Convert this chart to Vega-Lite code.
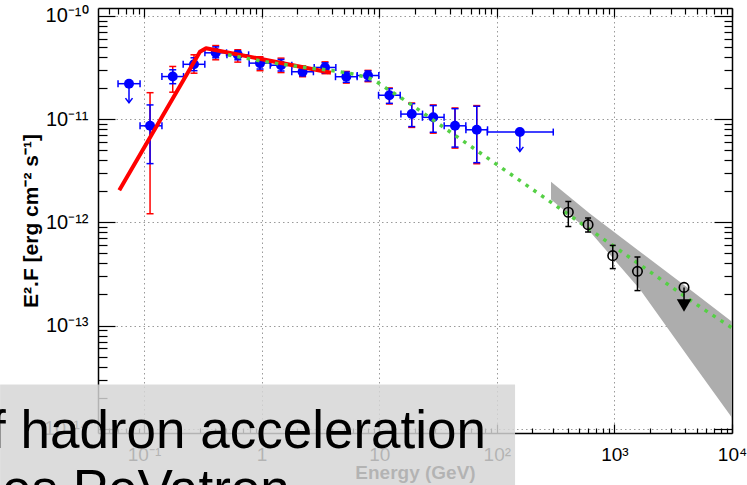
{
  "$schema": "https://vega.github.io/schema/vega-lite/v6.json",
  "width": 634,
  "height": 425,
  "autosize": "none",
  "padding": {"left": 98, "top": 8, "right": 15, "bottom": 52},
  "background": "white",
  "config": {"view": {"stroke": null}, "font": "Liberation Sans"},
  "datasets": {
    "fermi": [
      {"E": 0.0745, "F": 2.2e-11, "xlo": 0.0601, "xhi": 0.0925, "ulend": 1.44e-11},
      {"E": 0.1125, "F": 8.6e-12, "xlo": 0.0925, "xhi": 0.142, "stlo": 3.7e-12, "sthi": 1.37e-11, "sylo": 1.21e-12, "syhi": 1.8e-11},
      {"E": 0.1754, "F": 2.58e-11, "xlo": 0.1419, "xhi": 0.2168, "stlo": 2.2e-11, "sthi": 3.0e-11, "sylo": 1.82e-11, "syhi": 3.23e-11},
      {"E": 0.266, "F": 3.39e-11, "xlo": 0.2152, "xhi": 0.3288, "stlo": 2.94e-11, "sthi": 3.92e-11, "sylo": 2.78e-11, "syhi": 4.19e-11},
      {"E": 0.407, "F": 4.38e-11, "xlo": 0.3293, "xhi": 0.503, "stlo": 3.92e-11, "sthi": 5.0e-11, "sylo": 3.75e-11, "syhi": 5.15e-11},
      {"E": 0.627, "F": 4.19e-11, "xlo": 0.507, "xhi": 0.775, "stlo": 3.75e-11, "sthi": 4.58e-11, "sylo": 3.56e-11, "syhi": 4.69e-11},
      {"E": 0.969, "F": 3.48e-11, "xlo": 0.784, "xhi": 1.198, "stlo": 3.05e-11, "sthi": 3.9e-11, "sylo": 2.94e-11, "syhi": 4.01e-11},
      {"E": 1.462, "F": 3.32e-11, "xlo": 1.183, "xhi": 1.807, "stlo": 2.92e-11, "sthi": 3.78e-11, "sylo": 2.82e-11, "syhi": 3.89e-11},
      {"E": 2.23, "F": 2.87e-11, "xlo": 1.804, "xhi": 2.756, "stlo": 2.62e-11, "sthi": 3.18e-11, "sylo": 2.57e-11, "syhi": 3.27e-11},
      {"E": 3.46, "F": 3.16e-11, "xlo": 2.8, "xhi": 4.277, "stlo": 2.8e-11, "sthi": 3.5e-11, "sylo": 2.75e-11, "syhi": 3.58e-11},
      {"E": 5.25, "F": 2.57e-11, "xlo": 4.248, "xhi": 6.489, "stlo": 2.27e-11, "sthi": 2.85e-11, "sylo": 2.23e-11, "syhi": 2.89e-11},
      {"E": 8.03, "F": 2.64e-11, "xlo": 6.497, "xhi": 9.925, "stlo": 2.34e-11, "sthi": 2.92e-11, "sylo": 2.3e-11, "syhi": 2.96e-11},
      {"E": 12.2, "F": 1.7e-11, "xlo": 9.87, "xhi": 15.08, "stlo": 1.42e-11, "sthi": 1.97e-11, "sylo": 1.4e-11, "syhi": 2.0e-11},
      {"E": 18.9, "F": 1.117e-11, "xlo": 15.29, "xhi": 23.36, "stlo": 8.45e-12, "sthi": 1.41e-11, "sylo": 8.3e-12, "syhi": 1.43e-11},
      {"E": 28.8, "F": 1.04e-11, "xlo": 23.3, "xhi": 35.6, "stlo": 7.45e-12, "sthi": 1.35e-11, "sylo": 7.3e-12, "syhi": 1.37e-11},
      {"E": 44.1, "F": 8.6e-12, "xlo": 35.68, "xhi": 54.5, "stlo": 5.35e-12, "sthi": 1.26e-11, "sylo": 5.23e-12, "syhi": 1.28e-11},
      {"E": 67.5, "F": 7.87e-12, "xlo": 54.6, "xhi": 83.4, "stlo": 3.78e-12, "sthi": 1.33e-11, "sylo": 3.69e-12, "syhi": 1.35e-11},
      {"E": 157, "F": 7.48e-12, "xlo": 83, "xhi": 302, "ulend": 4.85e-12}
    ],
    "hess": [
      {"E": 405.6, "F": 1.25e-12, "lo": 9.1e-13, "hi": 1.59e-12},
      {"E": 597, "F": 9.49e-13, "lo": 8.05e-13, "hi": 1.1e-12},
      {"E": 968, "F": 4.75e-13, "lo": 3.56e-13, "hi": 5.97e-13},
      {"E": 1571, "F": 3.35e-13, "lo": 2.18e-13, "hi": 4.61e-13}
    ],
    "hessul": [
      {"E": 3909, "F": 2.34e-13, "ruleend": 1.72e-13, "tri": 1.56e-13}
    ],
    "band": [
      {"E": 289, "lo": 1.66e-12, "hi": 2.47e-12},
      {"E": 621, "lo": 8.11e-13, "hi": 1.21e-12},
      {"E": 1652, "lo": 2.23e-13, "hi": 5.19e-13},
      {"E": 4395, "lo": 4.68e-14, "hi": 2.23e-13},
      {"E": 10000, "lo": 1.28e-14, "hi": 1.09e-13}
    ],
    "redline": [
      {"E": 0.0616, "F": 2.04e-12},
      {"E": 0.299, "F": 4.48e-11},
      {"E": 0.3366, "F": 4.85e-11},
      {"E": 3.89, "F": 2.81e-11}
    ],
    "greenline": [
      {"E": 0.518, "F": 4.19e-11},
      {"E": 0.969, "F": 3.67e-11},
      {"E": 2.121, "F": 3.21e-11},
      {"E": 4.64, "F": 2.87e-11},
      {"E": 6.87, "F": 2.63e-11},
      {"E": 8.86, "F": 2.4e-11},
      {"E": 11.65, "F": 1.965e-11},
      {"E": 17.24, "F": 1.47e-11},
      {"E": 31.0, "F": 9.21e-12},
      {"E": 59.2, "F": 5.51e-12},
      {"E": 106.5, "F": 3.45e-12},
      {"E": 247.1, "F": 1.77e-12},
      {"E": 754.6, "F": 7.26e-13},
      {"E": 2008, "F": 3.32e-13},
      {"E": 5345, "F": 1.52e-13},
      {"E": 10000, "F": 9.5e-14}
    ],
    "overlay": [
      {"x1": 0.00597, "x2": 142.9, "y1": 2.68e-14, "y2": 1e-15}
    ],
    "caption": [
      {"line": "f hadron acceleration", "xr": 80.9, "y": 6.58e-15}
    ],
    "caption2": [
      {"line": "es PeVatron", "xl": 0.0062, "y": 1.73e-15}
    ]
  },
  "layer": [
    {
      "layer": [
        {
          "data": {"name": "band"},
          "mark": {"type": "area", "fill": "#adadad", "opacity": 1},
          "encoding": {
            "x": {"field": "E", "type": "quantitative", "scale": {"type": "log", "domain": [0.0406, 10000], "nice": false},
              "axis": {
                "orient": "bottom",
                "values": [0.05,0.06,0.07,0.08,0.09,0.1,0.2,0.3,0.4,0.5,0.6,0.7,0.8,0.9,1,2,3,4,5,6,7,8,9,10,20,30,40,50,60,70,80,90,100,200,300,400,500,600,700,800,900,1000,2000,3000,4000,5000,6000,7000,8000,9000,10000],
                "labelExpr": "datum.value == 0.1 ? '10⁻¹' : datum.value == 1 ? '1' : datum.value == 10 ? '10' : datum.value == 100 ? '10²' : datum.value == 1000 ? '10³' : datum.value == 10000 ? '10⁴' : ''",
                "labelFlush": false,
                "labelOverlap": false,
                "labelFontSize": 19,
                "labelColor": "black",
                "labelPadding": 21,
                "tickColor": "black",
                "tickWidth": 1.2,
                "tickSize": {"condition": {"test": "abs(log(datum.value)/LN10 - round(log(datum.value)/LN10)) < 0.001", "value": -9}, "value": -5},
                "domainColor": "black",
                "domainWidth": 1.5,
                "grid": true,
                "gridColor": "#9a9a9a",
                "gridDash": [1.5, 3],
                "gridWidth": 1,
                "gridOpacity": {"condition": {"test": "abs(log(datum.value)/LN10 - round(log(datum.value)/LN10)) < 0.001", "value": 1}, "value": 0},
                "title": "Energy (GeV)",
                "titleFontSize": 19,
                "titleFontWeight": "bold",
                "titleColor": "black",
                "titlePadding": -5
              }
            },
            "y": {"field": "hi", "type": "quantitative", "scale": {"type": "log", "domain": [9.1e-15, 1.19e-10], "nice": false},
              "axis": {
                "orient": "left",
                "values": [1e-14,2e-14,3e-14,4e-14,5e-14,6e-14,7e-14,8e-14,9e-14,1e-13,2e-13,3e-13,4e-13,5e-13,6e-13,7e-13,8e-13,9e-13,1e-12,2e-12,3e-12,4e-12,5e-12,6e-12,7e-12,8e-12,9e-12,1e-11,2e-11,3e-11,4e-11,5e-11,6e-11,7e-11,8e-11,9e-11,1e-10],
                "labelExpr": "datum.value == 1e-10 ? '10⁻¹⁰' : datum.value == 1e-11 ? '10⁻¹¹' : datum.value == 1e-12 ? '10⁻¹²' : datum.value == 1e-13 ? '10⁻¹³' : datum.value == 1e-14 ? '10⁻¹⁴' : ''",
                "labelFlush": false,
                "labelOverlap": false,
                "labelFontSize": 20,
                "labelColor": "black",
                "labelPadding": 27,
                "tickColor": "black",
                "tickWidth": 1.2,
                "tickSize": {"condition": {"test": "abs(log(datum.value)/LN10 - round(log(datum.value)/LN10)) < 0.001", "value": -17}, "value": -9},
                "domainColor": "black",
                "domainWidth": 1.5,
                "grid": true,
                "gridColor": "#9a9a9a",
                "gridDash": [1.5, 3],
                "gridWidth": 1,
                "gridOpacity": {"condition": {"test": "abs(log(datum.value)/LN10 - round(log(datum.value)/LN10)) < 0.001", "value": 1}, "value": 0},
                "title": "E².F [erg cm⁻² s⁻¹]",
                "titleFontSize": 21,
                "titleFontWeight": "bold",
                "titleColor": "black",
                "titlePadding": 2
              }
            },
            "y2": {"field": "lo"}
          }
        },
        {
          "data": {"name": "fermi"},
          "transform": [{"filter": "datum.sylo != null"}],
          "mark": {"type": "rule", "color": "#ff0000", "strokeWidth": 1.5},
          "encoding": {
            "x": {"field": "E", "type": "quantitative", "scale": {"type": "log", "domain": [0.0406, 10000], "nice": false}},
            "y": {"field": "sylo", "type": "quantitative", "scale": {"type": "log", "domain": [9.1e-15, 1.19e-10], "nice": false}},
            "y2": {"field": "syhi"}
          }
        },
        {
          "data": {"name": "fermi"},
          "transform": [{"filter": "datum.sylo != null"}],
          "mark": {"type": "tick", "orient": "horizontal", "color": "#ff0000", "size": 7, "thickness": 1.5, "opacity": 1},
          "encoding": {
            "x": {"field": "E", "type": "quantitative", "scale": {"type": "log", "domain": [0.0406, 10000], "nice": false}},
            "y": {"field": "sylo", "type": "quantitative", "scale": {"type": "log", "domain": [9.1e-15, 1.19e-10], "nice": false}}
          }
        },
        {
          "data": {"name": "fermi"},
          "transform": [{"filter": "datum.sylo != null"}],
          "mark": {"type": "tick", "orient": "horizontal", "color": "#ff0000", "size": 7, "thickness": 1.5, "opacity": 1},
          "encoding": {
            "x": {"field": "E", "type": "quantitative", "scale": {"type": "log", "domain": [0.0406, 10000], "nice": false}},
            "y": {"field": "syhi", "type": "quantitative", "scale": {"type": "log", "domain": [9.1e-15, 1.19e-10], "nice": false}}
          }
        },
        {
          "data": {"name": "fermi"},
          "mark": {"type": "rule", "color": "#0000ff", "strokeWidth": 1.5},
          "encoding": {
            "x": {"field": "xlo", "type": "quantitative", "scale": {"type": "log", "domain": [0.0406, 10000], "nice": false}},
            "x2": {"field": "xhi"},
            "y": {"field": "F", "type": "quantitative", "scale": {"type": "log", "domain": [9.1e-15, 1.19e-10], "nice": false}}
          }
        },
        {
          "data": {"name": "fermi"},
          "mark": {"type": "tick", "orient": "vertical", "color": "#0000ff", "size": 7, "thickness": 1.5, "opacity": 1},
          "encoding": {
            "x": {"field": "xlo", "type": "quantitative", "scale": {"type": "log", "domain": [0.0406, 10000], "nice": false}},
            "y": {"field": "F", "type": "quantitative", "scale": {"type": "log", "domain": [9.1e-15, 1.19e-10], "nice": false}}
          }
        },
        {
          "data": {"name": "fermi"},
          "mark": {"type": "tick", "orient": "vertical", "color": "#0000ff", "size": 7, "thickness": 1.5, "opacity": 1},
          "encoding": {
            "x": {"field": "xhi", "type": "quantitative", "scale": {"type": "log", "domain": [0.0406, 10000], "nice": false}},
            "y": {"field": "F", "type": "quantitative", "scale": {"type": "log", "domain": [9.1e-15, 1.19e-10], "nice": false}}
          }
        },
        {
          "data": {"name": "fermi"},
          "transform": [{"filter": "datum.stlo != null"}],
          "mark": {"type": "rule", "color": "#0000ff", "strokeWidth": 1.5},
          "encoding": {
            "x": {"field": "E", "type": "quantitative", "scale": {"type": "log", "domain": [0.0406, 10000], "nice": false}},
            "y": {"field": "stlo", "type": "quantitative", "scale": {"type": "log", "domain": [9.1e-15, 1.19e-10], "nice": false}},
            "y2": {"field": "sthi"}
          }
        },
        {
          "data": {"name": "fermi"},
          "transform": [{"filter": "datum.stlo != null"}],
          "mark": {"type": "tick", "orient": "horizontal", "color": "#0000ff", "size": 7, "thickness": 1.5, "opacity": 1},
          "encoding": {
            "x": {"field": "E", "type": "quantitative", "scale": {"type": "log", "domain": [0.0406, 10000], "nice": false}},
            "y": {"field": "stlo", "type": "quantitative", "scale": {"type": "log", "domain": [9.1e-15, 1.19e-10], "nice": false}}
          }
        },
        {
          "data": {"name": "fermi"},
          "transform": [{"filter": "datum.stlo != null"}],
          "mark": {"type": "tick", "orient": "horizontal", "color": "#0000ff", "size": 7, "thickness": 1.5, "opacity": 1},
          "encoding": {
            "x": {"field": "E", "type": "quantitative", "scale": {"type": "log", "domain": [0.0406, 10000], "nice": false}},
            "y": {"field": "sthi", "type": "quantitative", "scale": {"type": "log", "domain": [9.1e-15, 1.19e-10], "nice": false}}
          }
        },
        {
          "data": {"name": "fermi"},
          "transform": [{"filter": "datum.ulend != null"}],
          "mark": {"type": "rule", "color": "#0000ff", "strokeWidth": 1.5},
          "encoding": {
            "x": {"field": "E", "type": "quantitative", "scale": {"type": "log", "domain": [0.0406, 10000], "nice": false}},
            "y": {"field": "F", "type": "quantitative", "scale": {"type": "log", "domain": [9.1e-15, 1.19e-10], "nice": false}},
            "y2": {"field": "ulend"}
          }
        },
        {
          "data": {"name": "fermi"},
          "transform": [{"filter": "datum.ulend != null"}],
          "mark": {"type": "point", "shape": "M-1,-1.3L0,0L1,-1.3", "filled": false, "stroke": "#0000ff", "strokeWidth": 1.5, "size": 50, "opacity": 1},
          "encoding": {
            "x": {"field": "E", "type": "quantitative", "scale": {"type": "log", "domain": [0.0406, 10000], "nice": false}},
            "y": {"field": "ulend", "type": "quantitative", "scale": {"type": "log", "domain": [9.1e-15, 1.19e-10], "nice": false}}
          }
        },
        {
          "data": {"name": "fermi"},
          "mark": {"type": "circle", "color": "#0000ff", "size": 100, "opacity": 1},
          "encoding": {
            "x": {"field": "E", "type": "quantitative", "scale": {"type": "log", "domain": [0.0406, 10000], "nice": false}},
            "y": {"field": "F", "type": "quantitative", "scale": {"type": "log", "domain": [9.1e-15, 1.19e-10], "nice": false}}
          }
        },
        {
          "data": {"name": "redline"},
          "mark": {"type": "line", "color": "#ff0000", "strokeWidth": 4, "strokeJoin": "round"},
          "encoding": {
            "x": {"field": "E", "type": "quantitative", "scale": {"type": "log", "domain": [0.0406, 10000], "nice": false}},
            "y": {"field": "F", "type": "quantitative", "scale": {"type": "log", "domain": [9.1e-15, 1.19e-10], "nice": false}}
          }
        },
        {
          "data": {"name": "greenline"},
          "mark": {"type": "line", "color": "#55d045", "strokeWidth": 3.5, "strokeDash": [3.5, 6], "strokeCap": "butt", "interpolate": "monotone", "clip": true},
          "encoding": {
            "x": {"field": "E", "type": "quantitative", "scale": {"type": "log", "domain": [0.0406, 10000], "nice": false}},
            "y": {"field": "F", "type": "quantitative", "scale": {"type": "log", "domain": [9.1e-15, 1.19e-10], "nice": false}}
          }
        },
        {
          "data": {"name": "hess"},
          "mark": {"type": "rule", "color": "black", "strokeWidth": 1.5},
          "encoding": {
            "x": {"field": "E", "type": "quantitative", "scale": {"type": "log", "domain": [0.0406, 10000], "nice": false}},
            "y": {"field": "lo", "type": "quantitative", "scale": {"type": "log", "domain": [9.1e-15, 1.19e-10], "nice": false}},
            "y2": {"field": "hi"}
          }
        },
        {
          "data": {"name": "hess"},
          "mark": {"type": "tick", "orient": "horizontal", "color": "black", "size": 6, "thickness": 1.5, "opacity": 1},
          "encoding": {
            "x": {"field": "E", "type": "quantitative", "scale": {"type": "log", "domain": [0.0406, 10000], "nice": false}},
            "y": {"field": "lo", "type": "quantitative", "scale": {"type": "log", "domain": [9.1e-15, 1.19e-10], "nice": false}}
          }
        },
        {
          "data": {"name": "hess"},
          "mark": {"type": "tick", "orient": "horizontal", "color": "black", "size": 6, "thickness": 1.5, "opacity": 1},
          "encoding": {
            "x": {"field": "E", "type": "quantitative", "scale": {"type": "log", "domain": [0.0406, 10000], "nice": false}},
            "y": {"field": "hi", "type": "quantitative", "scale": {"type": "log", "domain": [9.1e-15, 1.19e-10], "nice": false}}
          }
        },
        {
          "data": {"name": "hess"},
          "mark": {"type": "point", "shape": "circle", "filled": false, "stroke": "black", "strokeWidth": 1.6, "size": 90, "opacity": 1},
          "encoding": {
            "x": {"field": "E", "type": "quantitative", "scale": {"type": "log", "domain": [0.0406, 10000], "nice": false}},
            "y": {"field": "F", "type": "quantitative", "scale": {"type": "log", "domain": [9.1e-15, 1.19e-10], "nice": false}}
          }
        },
        {
          "data": {"name": "hessul"},
          "mark": {"type": "rule", "color": "black", "strokeWidth": 1.5},
          "encoding": {
            "x": {"field": "E", "type": "quantitative", "scale": {"type": "log", "domain": [0.0406, 10000], "nice": false}},
            "y": {"field": "F", "type": "quantitative", "scale": {"type": "log", "domain": [9.1e-15, 1.19e-10], "nice": false}},
            "y2": {"field": "ruleend"}
          }
        },
        {
          "data": {"name": "hessul"},
          "mark": {"type": "point", "shape": "triangle-down", "filled": true, "color": "black", "size": 210, "opacity": 1},
          "encoding": {
            "x": {"field": "E", "type": "quantitative", "scale": {"type": "log", "domain": [0.0406, 10000], "nice": false}},
            "y": {"field": "tri", "type": "quantitative", "scale": {"type": "log", "domain": [9.1e-15, 1.19e-10], "nice": false}}
          }
        },
        {
          "data": {"name": "hessul"},
          "mark": {"type": "point", "shape": "circle", "filled": false, "stroke": "black", "strokeWidth": 1.6, "size": 90, "opacity": 1},
          "encoding": {
            "x": {"field": "E", "type": "quantitative", "scale": {"type": "log", "domain": [0.0406, 10000], "nice": false}},
            "y": {"field": "F", "type": "quantitative", "scale": {"type": "log", "domain": [9.1e-15, 1.19e-10], "nice": false}}
          }
        },
        {
          "data": {"name": "overlay"},
          "mark": {"type": "rect", "fill": "#d5d5d5", "opacity": 0.84},
          "encoding": {
            "x": {"field": "x1", "type": "quantitative", "scale": {"type": "log", "domain": [0.0406, 10000], "nice": false}},
            "x2": {"field": "x2"},
            "y": {"field": "y1", "type": "quantitative", "scale": {"type": "log", "domain": [9.1e-15, 1.19e-10], "nice": false}},
            "y2": {"field": "y2"}
          }
        },
        {
          "data": {"name": "caption"},
          "mark": {"type": "text", "align": "right", "baseline": "alphabetic", "fontSize": 53, "font": "Liberation Sans", "color": "black"},
          "encoding": {
            "x": {"field": "xr", "type": "quantitative", "scale": {"type": "log", "domain": [0.0406, 10000], "nice": false}},
            "y": {"field": "y", "type": "quantitative", "scale": {"type": "log", "domain": [9.1e-15, 1.19e-10], "nice": false}},
            "text": {"field": "line"}
          }
        },
        {
          "data": {"name": "caption2"},
          "mark": {"type": "text", "align": "left", "baseline": "alphabetic", "fontSize": 53, "font": "Liberation Sans", "color": "black"},
          "encoding": {
            "x": {"field": "xl", "type": "quantitative", "scale": {"type": "log", "domain": [0.0406, 10000], "nice": false}},
            "y": {"field": "y", "type": "quantitative", "scale": {"type": "log", "domain": [9.1e-15, 1.19e-10], "nice": false}},
            "text": {"field": "line"}
          }
        }
      ]
    },
    {
      "data": {"name": "hess"},
      "mark": {"type": "point", "opacity": 0},
      "encoding": {
        "x": {"field": "E", "type": "quantitative", "scale": {"type": "log", "domain": [0.0406, 10000], "nice": false},
          "axis": {
            "orient": "top",
            "values": [0.05,0.06,0.07,0.08,0.09,0.1,0.2,0.3,0.4,0.5,0.6,0.7,0.8,0.9,1,2,3,4,5,6,7,8,9,10,20,30,40,50,60,70,80,90,100,200,300,400,500,600,700,800,900,1000,2000,3000,4000,5000,6000,7000,8000,9000,10000],
            "labels": false,
            "grid": false,
            "tickColor": "black",
            "tickWidth": 1.2,
            "tickSize": {"condition": {"test": "abs(log(datum.value)/LN10 - round(log(datum.value)/LN10)) < 0.001", "value": -9}, "value": -6},
            "domainColor": "black",
            "domainWidth": 1.5,
            "title": null
          }
        },
        "y": {"field": "F", "type": "quantitative", "scale": {"type": "log", "domain": [9.1e-15, 1.19e-10], "nice": false},
          "axis": {
            "orient": "right",
            "values": [1e-14,2e-14,3e-14,4e-14,5e-14,6e-14,7e-14,8e-14,9e-14,1e-13,2e-13,3e-13,4e-13,5e-13,6e-13,7e-13,8e-13,9e-13,1e-12,2e-12,3e-12,4e-12,5e-12,6e-12,7e-12,8e-12,9e-12,1e-11,2e-11,3e-11,4e-11,5e-11,6e-11,7e-11,8e-11,9e-11,1e-10],
            "labels": false,
            "grid": false,
            "tickColor": "black",
            "tickWidth": 1.2,
            "tickSize": {"condition": {"test": "abs(log(datum.value)/LN10 - round(log(datum.value)/LN10)) < 0.001", "value": -18}, "value": -8},
            "domainColor": "black",
            "domainWidth": 1.5,
            "title": null
          }
        }
      }
    }
  ],
  "resolve": {"scale": {"x": "independent", "y": "independent"}}
}
